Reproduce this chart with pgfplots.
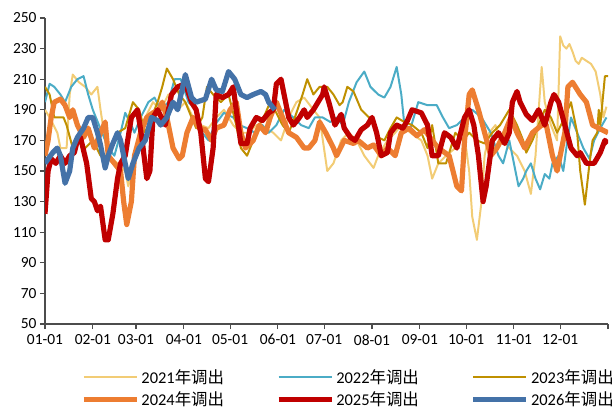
\documentclass[border=0pt]{standalone}
\usepackage{fontspec}
\setmainfont{Carlito}
\newfontfamily\cjk{Noto Sans CJK SC}
\usepackage{pgfplots}
\pgfplotsset{compat=1.18}
\definecolor{c21}{RGB}{242,204,117}
\definecolor{c22}{RGB}{75,172,198}
\definecolor{c23}{RGB}{191,144,0}
\definecolor{c24}{RGB}{237,125,49}
\definecolor{c25}{RGB}{192,0,0}
\definecolor{c26}{RGB}{68,114,168}
\begin{document}
\begin{tikzpicture}
\begin{axis}[name=ax, scale only axis, width=563bp, height=306bp,
 xmin=0, xmax=365, ymin=50, ymax=250,
 ytick={50,70,90,110,130,150,170,190,210,230,250},
 xtick={0,31,59,90,120,151,181,212,243,273,304,334,365},
 xticklabels={01-01,02-01,03-01,04-01,05-01,06-01,07-01,08-01,09-01,10-01,11-01,12-01,{}},
 axis lines=left, axis line style={-, draw=black!70, line width=1.1pt},
 tick style={draw=black!70, line width=1.1pt}, tick align=outside, major tick length=5bp,
 ticklabel style={font=\fontsize{15.5}{17}\selectfont, text=black},
 xticklabel style={yshift=-2bp},
 /pgf/number format/assume math mode=true,
 legend columns=3,
 legend cell align=left,
 legend style={at={(0.5,-0.135)}, anchor=north, xshift=22bp, draw=none, font=\fontsize{16.5}{18}\selectfont,
   /tikz/every even column/.append style={column sep=50bp}, row sep=3bp},
 legend image code/.code={\draw[#1] (0bp,0bp) -- (53bp,0bp);},
 every axis plot/.append style={line join=round},
 clip=true,
]
\addplot[c21, line width=2pt] coordinates {(0,190)(3,185)(8,175)(10,165)(14,165)(16,200)(18,213)(22,208)(26,205)(30,200)(34,205)(36,190)(39,170)(41,160)(47,155)(52,150)(54,140)(57,155)(61,175)(65,185)(70,195)(75,190)(80,200)(86,190)(91,195)(96,185)(101,180)(106,178)(111,185)(116,190)(122,180)(127,175)(132,175)(137,180)(143,178)(148,175)(153,170)(158,185)(163,195)(168,198)(174,190)(178,185)(183,150)(187,155)(192,170)(197,175)(202,170)(207,160)(213,152)(216,160)(222,170)(227,175)(231,180)(237,175)(244,170)(248,160)(251,145)(255,155)(260,160)(266,165)(271,180)(275,150)(277,120)(280,105)(283,130)(285,160)(288,175)(292,180)(295,172)(301,165)(306,160)(311,150)(315,135)(318,160)(322,218)(324,195)(328,180)(332,170)(334,238)(336,232)(338,230)(340,233)(342,228)(344,222)(346,220)(348,224)(351,222)(354,220)(357,215)(360,200)(362,185)(364,192)};
\addlegendentry{2021{\cjk 年调出}}
\addplot[c22, line width=2pt] coordinates {(0,195)(3,207)(6,205)(10,200)(13,195)(17,205)(21,210)(25,212)(28,200)(31,190)(35,180)(39,170)(41,165)(45,160)(49,175)(52,188)(56,180)(58,175)(62,185)(67,195)(71,198)(75,190)(80,195)(84,210)(88,210)(93,195)(98,190)(102,175)(106,170)(110,180)(116,188)(122,185)(126,180)(131,178)(136,175)(141,180)(145,175)(150,180)(155,190)(161,185)(166,180)(171,178)(175,185)(180,185)(185,182)(189,185)(193,180)(197,195)(202,208)(207,215)(211,205)(216,200)(220,198)(224,205)(228,218)(231,200)(233,180)(237,178)(242,195)(248,193)(254,193)(258,185)(262,178)(267,180)(272,185)(277,190)(283,185)(289,175)(294,160)(297,155)(301,170)(303,160)(307,140)(310,145)(312,150)(315,155)(318,145)(321,138)(324,148)(327,145)(329,155)(333,160)(336,150)(338,165)(341,185)(345,175)(349,165)(353,158)(356,170)(360,178)(364,185)};
\addlegendentry{2022{\cjk 年调出}}
\addplot[c23, line width=2pt] coordinates {(0,205)(3,200)(6,185)(12,185)(14,180)(18,165)(21,170)(26,165)(31,170)(36,160)(41,160)(47,175)(52,178)(57,195)(61,190)(65,175)(69,185)(73,195)(76,205)(79,217)(83,210)(87,200)(91,195)(95,185)(98,178)(102,185)(105,205)(109,200)(114,195)(119,200)(124,180)(127,165)(131,160)(135,170)(139,180)(143,188)(146,195)(150,188)(154,180)(158,175)(162,185)(167,200)(170,210)(174,200)(178,205)(183,205)(187,200)(191,193)(193,195)(196,205)(200,202)(205,190)(210,185)(214,180)(216,172)(220,170)(224,178)(228,185)(233,182)(238,180)(244,175)(248,165)(251,180)(255,155)(260,155)(266,175)(271,170)(275,175)(280,170)(285,168)(290,175)(295,180)(301,190)(306,180)(310,170)(312,162)(316,170)(320,180)(324,190)(328,185)(332,175)(337,185)(341,195)(345,175)(347,150)(350,128)(353,155)(355,170)(358,175)(359,190)(360,180)(363,212)(365,212)};
\addlegendentry{2023{\cjk 年调出}}
\addplot[c24, line width=5.2pt] coordinates {(0,160)(2,170)(4,185)(6,195)(10,197)(13,193)(16,185)(18,190)(21,180)(25,172)(28,178)(32,165)(36,175)(39,182)(41,160)(45,155)(49,150)(51,130)(53,115)(56,130)(58,160)(62,175)(66,185)(70,188)(74,190)(76,195)(79,185)(83,165)(87,158)(89,160)(92,175)(96,185)(100,178)(104,177)(108,170)(111,178)(116,180)(120,190)(124,195)(127,175)(130,165)(135,170)(139,180)(143,175)(146,185)(150,195)(154,185)(158,175)(163,172)(168,165)(171,165)(175,170)(178,182)(182,175)(187,165)(189,160)(194,170)(200,168)(203,170)(209,165)(213,167)(218,160)(222,165)(227,160)(231,175)(236,178)(241,173)(246,177)(251,170)(255,165)(262,160)(267,140)(270,137)(272,170)(275,200)(277,203)(281,190)(285,175)(289,160)(293,165)(298,175)(302,185)(306,175)(311,165)(316,175)(322,180)(325,180)(329,160)(332,150)(337,175)(339,205)(342,208)(347,200)(351,195)(355,180)(359,178)(365,175)};
\addlegendentry{2024{\cjk 年调出}}
\addplot[c25, line width=5.2pt] coordinates {(0,122)(2,150)(4,158)(7,155)(10,160)(13,155)(16,160)(19,162)(21,170)(23,172)(27,155)(30,132)(32,130)(34,124)(36,127)(39,105)(41,105)(44,122)(47,145)(49,155)(52,160)(56,185)(60,190)(63,170)(66,145)(68,150)(70,185)(73,190)(78,180)(82,200)(86,205)(91,207)(95,195)(98,190)(101,175)(104,145)(106,143)(109,165)(111,200)(115,198)(119,200)(122,205)(124,190)(127,168)(131,168)(133,178)(137,185)(141,183)(145,188)(148,190)(150,207)(153,210)(155,200)(158,185)(161,180)(165,185)(168,190)(170,185)(174,190)(177,195)(180,200)(181,205)(184,195)(188,180)(192,187)(194,178)(198,172)(201,170)(205,177)(209,180)(212,185)(215,175)(218,160)(222,162)(224,175)(228,180)(232,178)(235,183)(238,190)(244,188)(248,180)(251,160)(255,160)(259,175)(263,172)(267,165)(272,185)(275,190)(278,180)(281,160)(284,130)(286,140)(290,170)(294,175)(298,168)(301,175)(303,195)(306,202)(308,195)(312,187)(316,183)(320,190)(324,180)(328,195)(330,200)(333,195)(337,180)(341,165)(345,160)(347,162)(351,155)(356,155)(360,162)(363,170)(365,168)};
\addlegendentry{2025{\cjk 年调出}}
\addplot[c26, line width=5.2pt] coordinates {(0,155)(5,162)(8,165)(10,160)(13,142)(16,150)(18,165)(21,172)(25,178)(28,185)(31,185)(34,175)(36,167)(39,152)(41,160)(44,168)(47,175)(49,170)(52,155)(54,145)(57,155)(61,165)(65,170)(69,185)(73,183)(75,180)(79,185)(83,195)(86,190)(91,213)(95,198)(98,195)(104,197)(108,210)(111,203)(115,202)(119,215)(123,210)(127,200)(131,198)(135,200)(140,202)(143,200)(145,195)(149,190)};
\addlegendentry{2026{\cjk 年调出}}
\end{axis}
\pgfresetboundingbox
\path ([shift={(-45bp,-90bp)}]ax.south west) rectangle ([shift={(8bp,18bp)}]ax.north east);
\end{tikzpicture}
\end{document}
